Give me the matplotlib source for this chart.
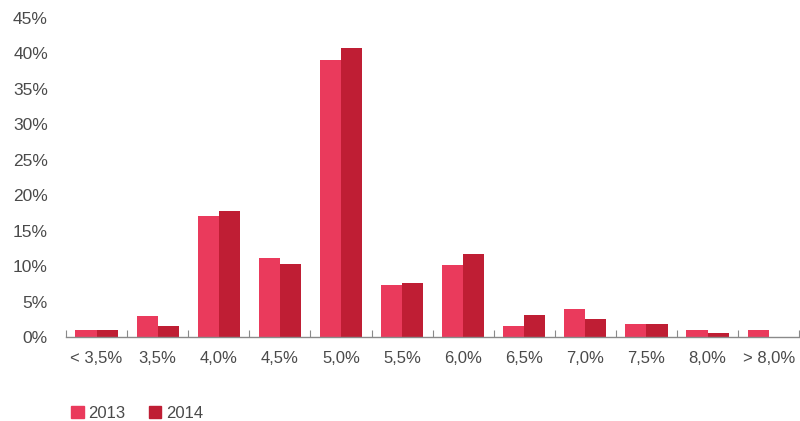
import numpy as np
import matplotlib
matplotlib.use('Agg')
import matplotlib.pyplot as plt
from matplotlib.patches import Patch

categories = ['< 3,5%', '3,5%', '4,0%', '4,5%', '5,0%', '5,5%', '6,0%', '6,5%', '7,0%', '7,5%', '8,0%', '> 8,0%']
v2013 = [1.0, 3.0, 17.0, 11.1, 39.1, 7.3, 10.2, 1.5, 4.0, 1.9, 1.0, 1.0]
v2014 = [1.0, 1.5, 17.8, 10.3, 40.7, 7.6, 11.7, 3.1, 2.5, 1.9, 0.5, 0.0]
yticks = [0, 5, 10, 15, 20, 25, 30, 35, 40, 45]

c2013 = '#ea3a5c'
c2014 = '#bf1e34'
gray = '#4a4a4a'

plt.rcParams['font.family'] = ['Liberation Sans', 'DejaVu Sans']

fig = plt.figure(figsize=(8, 4.21), dpi=100)
ax = fig.add_axes([0.0825, 0.1995, 0.9165, 0.7585])

x = np.arange(len(categories))
w = 0.345
ax.bar(x - w / 2, v2013, width=w, color=c2013, label='2013')
ax.bar(x + w / 2, v2014, width=w, color=c2014, label='2014')

ax.set_xlim(-0.5, len(categories) - 0.5)
ax.set_ylim(0, 45)
ax.set_yticks(yticks)
ax.set_yticklabels([f'{t}%' for t in yticks], fontsize=12.5, color=gray)
ax.tick_params(axis='y', length=0, pad=13)

# category boundaries as small upward ticks
ax.set_xticks(np.arange(len(categories) + 1) - 0.5, minor=True)
ax.set_xticks(x)
ax.set_xticklabels(categories, fontsize=12, color=gray)
ax.tick_params(axis='x', which='major', length=0, pad=10)
ax.tick_params(axis='x', which='minor', length=5, direction='in', color='#8a8a8a', width=0.8)

for s in ['top', 'right', 'left']:
    ax.spines[s].set_visible(False)
ax.spines['bottom'].set_color('#8a8a8a')
ax.spines['bottom'].set_linewidth(1.0)

handles = [Patch(color=c2013, label='2013'), Patch(color=c2014, label='2014')]
fig.legend(handles=handles, loc='lower left', bbox_to_anchor=(0.07, -0.035), ncol=2,
           frameon=False, fontsize=12, handlelength=0.75, handleheight=0.75,
           handletextpad=0.3, columnspacing=1.4, labelcolor=gray)

fig.savefig('out.png', dpi=100)
